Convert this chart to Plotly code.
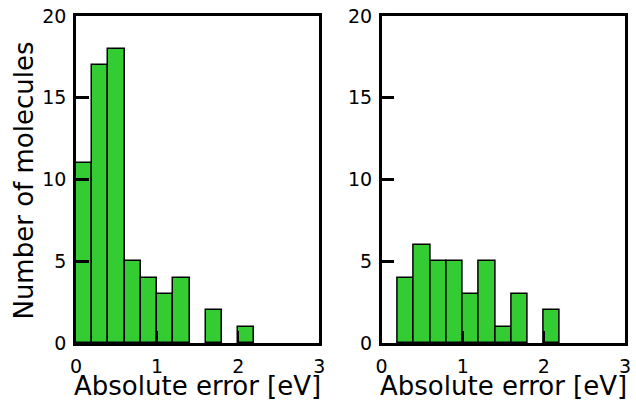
import plotly.graph_objects as go

# Histogram bin edges (eV) and counts
bin_edges = [0.0, 0.2, 0.4, 0.6, 0.8, 1.0, 1.2, 1.4, 1.6, 1.8, 2.0, 2.2]
counts_left = [11, 17, 18, 5, 4, 3, 4, 0, 2, 0, 1]
counts_right = [0, 4, 6, 5, 5, 3, 5, 1, 3, 0, 2]

x_title = "Absolute error [eV]"
y_title = "Number of molecules"
x_ticks = [0, 1, 2, 3]
y_ticks = [0, 5, 10, 15, 20]

BAR = "#33cc33"
FONT = "DejaVu Sans"

centers = [(a + b) / 2 for a, b in zip(bin_edges[:-1], bin_edges[1:])]
widths = [b - a for a, b in zip(bin_edges[:-1], bin_edges[1:])]


def bars(counts, xa, ya):
    xs = [c for c, n in zip(centers, counts) if n > 0]
    ws = [w for w, n in zip(widths, counts) if n > 0]
    ys = [n for n in counts if n > 0]
    return go.Bar(x=xs, y=ys, width=ws, xaxis=xa, yaxis=ya,
                  marker=dict(color=BAR, line=dict(color="black", width=1.5)),
                  showlegend=False, hoverinfo="skip")


fig = go.Figure()
fig.add_trace(bars(counts_left, "x", "y"))
fig.add_trace(bars(counts_right, "x2", "y2"))

W, H = 636, 402
ml, mr, mt, mb = 76, 5, 14, 59
pw = W - ml - mr
ph = H - mt - mb

common_x = dict(range=[0, 3], tickvals=x_ticks, ticks="inside", ticklen=12,
                tickwidth=2, tickcolor="black", showline=True, linecolor="black",
                linewidth=2.5, mirror=True, showgrid=False, zeroline=False,
                tickfont=dict(family=FONT, size=19, color="black"),
                ticklabelstandoff=4)
common_y = dict(range=[0, 20], tickvals=y_ticks, ticks="inside", ticklen=13,
                tickwidth=2.5, tickcolor="black", showline=True, linecolor="black",
                linewidth=2.5, mirror=True, showgrid=False, zeroline=False,
                tickfont=dict(family=FONT, size=19, color="black"),
                ticklabelstandoff=3)

fig.update_layout(
    width=W, height=H,
    margin=dict(l=ml, r=mr, t=mt, b=mb),
    plot_bgcolor="white", paper_bgcolor="white",
    bargap=0,
    xaxis=dict(domain=[0, 246 / pw], anchor="y", **common_x),
    yaxis=dict(domain=[0, 1], anchor="x", **common_y),
    xaxis2=dict(domain=[(385 - ml) / pw, 1], anchor="y2", **common_x),
    yaxis2=dict(domain=[0, 1], anchor="x2", **common_y),
    font=dict(family=FONT, color="black"),
)

ty = (H - mb - 386) / ph
fig.add_annotation(text=x_title, xref="paper", yref="paper",
                   x=(123) / pw, y=ty, xanchor="center", yanchor="middle",
                   showarrow=False, font=dict(family=FONT, size=26, color="black"))
fig.add_annotation(text=x_title, xref="paper", yref="paper",
                   x=(385 - ml + 123) / pw, y=ty, xanchor="center", yanchor="middle",
                   showarrow=False, font=dict(family=FONT, size=26, color="black"))
fig.add_annotation(text=y_title, xref="paper", yref="paper",
                   x=(23 - ml) / pw, y=(H - mb - 180) / ph, xanchor="center",
                   yanchor="middle", textangle=-90,
                   showarrow=False, font=dict(family=FONT, size=26, color="black"))

fig.write_html("out.html")
